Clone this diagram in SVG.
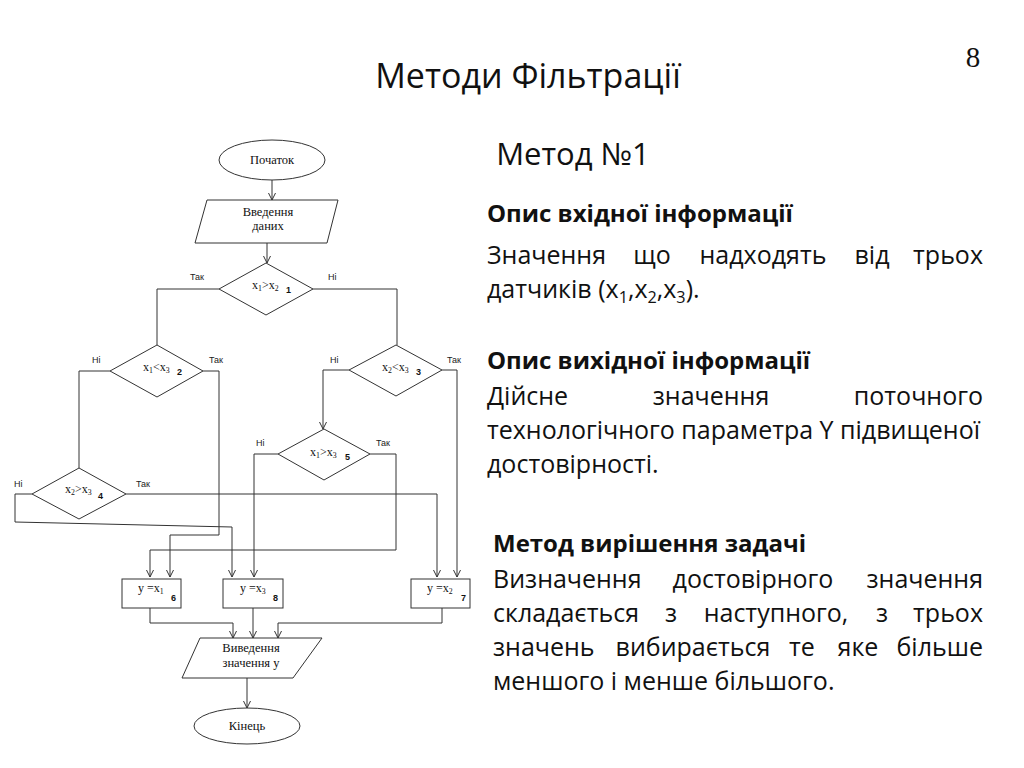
<svg xmlns="http://www.w3.org/2000/svg" width="1024" height="768" viewBox="0 0 1024 768">
<defs>
<marker id="arr" markerUnits="userSpaceOnUse" markerWidth="10" markerHeight="10" refX="7" refY="4" orient="auto">
<path d="M0,0.5 L7,4 L0,7.5" fill="none" stroke="#333" stroke-width="1"/>
</marker>
<style>
.shape{fill:#fff;stroke:#333;stroke-width:1}
.conn{fill:none;stroke:#333;stroke-width:1}
.arr{marker-end:url(#arr)}
.nt{font-family:"Liberation Serif",serif;font-size:12.5px;fill:#111;text-anchor:middle}
.ct{font-family:"Liberation Serif",serif;font-size:12px;fill:#111}
.num{font-family:"Liberation Sans",sans-serif;font-size:9px;font-weight:bold;fill:#111}
.lbl{font-family:"Liberation Sans",sans-serif;font-size:9px;fill:#222}
.title{font-family:"Open Sans","Noto Sans",sans-serif;font-size:34px;fill:#111}
.sub{font-family:"Open Sans","Noto Sans",sans-serif;font-size:31px;fill:#111}
.hd{font-family:"Open Sans","Noto Sans",sans-serif;font-size:24px;font-weight:bold;fill:#111}
.tx{font-family:"Open Sans","Noto Sans",sans-serif;font-size:25px;fill:#111}
.m{text-anchor:middle}
.e{text-anchor:end}
.s{font-size:65%}
</style>
</defs>
<rect width="1024" height="768" fill="#fff"/>

<text class="title" x="528" y="88" text-anchor="middle">Методи Фільтрації</text>
<text x="973" y="67" font-family="Liberation Serif,serif" font-size="29" text-anchor="middle" fill="#111">8</text>
<text class="sub" x="573" y="165" text-anchor="middle">Метод №1</text>

<g id="text-input">
<text class="hd" x="487" y="222">Опис вхідної інформації</text>
<text class="tx" y="264"><tspan x="487">Значення</tspan><tspan x="652" class="m">що</tspan><tspan x="763" class="m">надходять</tspan><tspan x="872" class="m">від</tspan><tspan x="983" class="e">трьох</tspan></text>
<text class="tx" x="487" y="298">датчиків (x<tspan class="s" dy="5">1</tspan><tspan dy="-5">,x</tspan><tspan class="s" dy="5">2</tspan><tspan dy="-5">,x</tspan><tspan class="s" dy="5">3</tspan><tspan dy="-5">).</tspan></text>
</g>
<g id="text-output">
<text class="hd" x="487" y="369">Опис вихідної інформації</text>
<text class="tx" y="405"><tspan x="487">Дійсне</tspan><tspan x="711" class="m">значення</tspan><tspan x="983" class="e">поточного</tspan></text>
<text class="tx" x="487" y="439" textLength="493" lengthAdjust="spacing">технологічного параметра Y підвищеної</text>
<text class="tx" x="487" y="473">достовірності.</text>
</g>
<g id="text-method">
<text class="hd" x="493" y="552">Метод вирішення задачі</text>
<text class="tx" y="588"><tspan x="493">Визначення</tspan><tspan x="753" class="m">достовірного</tspan><tspan x="983" class="e">значення</tspan></text>
<text class="tx" y="622"><tspan x="493">складається</tspan><tspan x="671" class="m">з</tspan><tspan x="776" class="m">наступного,</tspan><tspan x="882" class="m">з</tspan><tspan x="983" class="e">трьох</tspan></text>
<text class="tx" y="656"><tspan x="493">значень</tspan><tspan x="693" class="m">вибирається</tspan><tspan x="802" class="m">те</tspan><tspan x="858" class="m">яке</tspan><tspan x="983" class="e">більше</tspan></text>
<text class="tx" x="493" y="690">меншого і менше більшого.</text>
</g>

<g id="connectors">
<path class="conn arr" d="M272,180 V200"/>
<path class="conn arr" d="M267,243 V263"/>
<path class="conn" d="M219,289 H157 V345"/>
<path class="conn" d="M313,289 H397 V345"/>
<path class="conn" d="M110,371 H79 V468"/>
<path class="conn arr" d="M203,371 H219 V535 H170 V577"/>
<path class="conn arr" d="M349,370 H323 V429"/>
<path class="conn arr" d="M442,370 H457 V577"/>
<path class="conn arr" d="M278,454 H254 V577"/>
<path class="conn arr" d="M370,454 H396 V550 H150 V577"/>
<path class="conn arr" d="M126,494 H437 V577"/>
<path class="conn arr" d="M32,494 H15 V522 L232,527 V577"/>
<path class="conn arr" d="M150,608 V623 H233 V638"/>
<path class="conn arr" d="M253,608 V638"/>
<path class="conn arr" d="M442,608 V623 H278 V638"/>
<path class="conn arr" d="M247,678 V708"/>
<text class="lbl" x="190" y="280">Так</text>
<text class="lbl" x="328" y="280">Ні</text>
<text class="lbl" x="92" y="363">Ні</text>
<text class="lbl" x="209" y="363">Так</text>
<text class="lbl" x="330" y="363">Ні</text>
<text class="lbl" x="447" y="363">Так</text>
<text class="lbl" x="256" y="446">Ні</text>
<text class="lbl" x="376" y="446">Так</text>
<text class="lbl" x="14" y="487">Ні</text>
<text class="lbl" x="136" y="487">Так</text>
</g>

<g id="start">
<ellipse class="shape" cx="272" cy="160" rx="53" ry="20"/>
<text class="nt" x="272" y="164">Початок</text>
</g>
<g id="input">
<polygon class="shape" points="207,200 338,200 327,243 195,243"/>
<text class="nt" x="268" y="216">Введення</text>
<text class="nt" x="268" y="230">даних</text>
</g>
<g id="d1">
<polygon class="shape" points="266,263 313,289 266,315 219,289"/>
<text class="ct" x="252" y="289">x<tspan class="s" dy="2">1</tspan><tspan dy="-2">&gt;x</tspan><tspan class="s" dy="2">2</tspan></text>
<text class="num" x="286" y="293">1</text>
</g>
<g id="d2">
<polygon class="shape" points="157,345 203,371 157,397 110,371"/>
<text class="ct" x="143" y="371">x<tspan class="s" dy="2">1</tspan><tspan dy="-2">&lt;x</tspan><tspan class="s" dy="2">3</tspan></text>
<text class="num" x="177" y="375">2</text>
</g>
<g id="d3">
<polygon class="shape" points="396,345 442,370 396,396 349,370"/>
<text class="ct" x="382" y="371">x<tspan class="s" dy="2">2</tspan><tspan dy="-2">&lt;x</tspan><tspan class="s" dy="2">3</tspan></text>
<text class="num" x="416" y="375">3</text>
</g>
<g id="d5">
<polygon class="shape" points="324,429 370,454 324,480 278,454"/>
<text class="ct" x="310" y="456">x<tspan class="s" dy="2">1</tspan><tspan dy="-2">&gt;x</tspan><tspan class="s" dy="2">3</tspan></text>
<text class="num" x="345" y="460">5</text>
</g>
<g id="d4">
<polygon class="shape" points="79,468 126,494 79,519 32,494"/>
<text class="ct" x="65" y="493">x<tspan class="s" dy="2">2</tspan><tspan dy="-2">&gt;x</tspan><tspan class="s" dy="2">3</tspan></text>
<text class="num" x="98" y="499">4</text>
</g>
<g id="b6">
<rect class="shape" x="122" y="579" width="59" height="29"/>
<text class="ct" x="138" y="592">y =x<tspan class="s" dy="2">1</tspan></text>
<text class="num" x="171" y="601">6</text>
</g>
<g id="b8">
<rect class="shape" x="223" y="579" width="60" height="29"/>
<text class="ct" x="240" y="592">y =x<tspan class="s" dy="2">3</tspan></text>
<text class="num" x="273" y="601">8</text>
</g>
<g id="b7">
<rect class="shape" x="411" y="579" width="59" height="29"/>
<text class="ct" x="427" y="592">y =x<tspan class="s" dy="2">2</tspan></text>
<text class="num" x="461" y="601">7</text>
</g>
<g id="output">
<polygon class="shape" points="200,638 322,638 293,678 182,678"/>
<text class="nt" x="251" y="652">Виведення</text>
<text class="nt" x="251" y="667">значення у</text>
</g>
<g id="end">
<ellipse class="shape" cx="247" cy="726" rx="53" ry="18"/>
<text class="nt" x="247" y="730">Кінець</text>
</g>
</svg>
